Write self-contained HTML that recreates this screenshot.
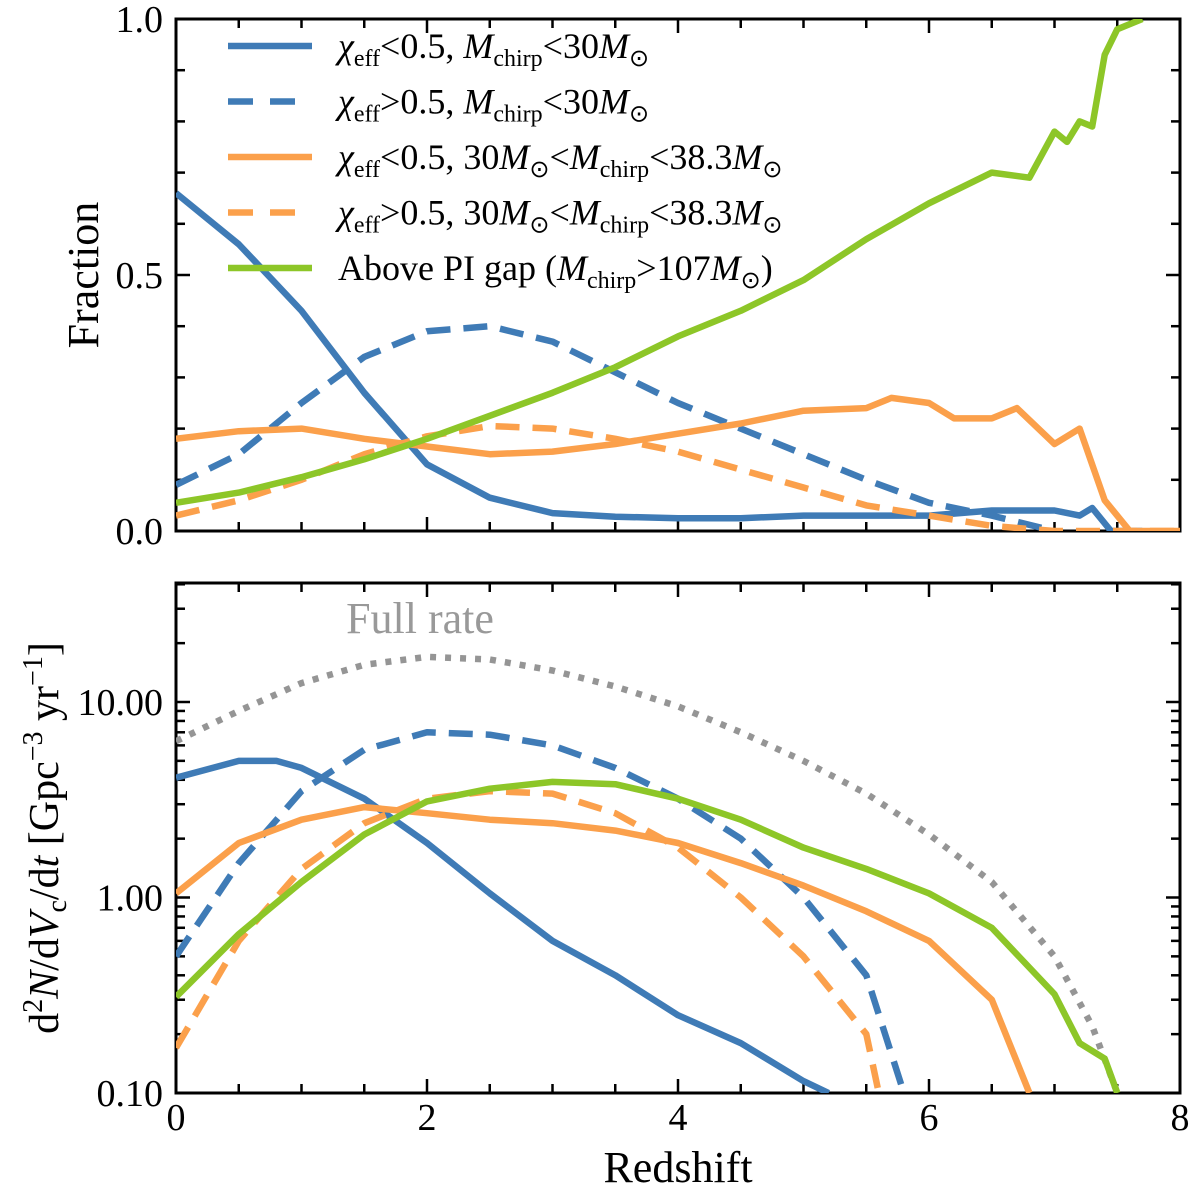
<!DOCTYPE html>
<html><head><meta charset="utf-8"><style>
html,body{margin:0;padding:0;background:#fff;}
svg{display:block;font-family:"Liberation Serif",serif;}
</style></head><body>
<svg id="chart" width="1200" height="1194" viewBox="0 0 1200 1194">
<defs>
<clipPath id="c1"><rect x="176" y="19" width="1004" height="512"/></clipPath>
<clipPath id="c2"><rect x="176" y="583" width="1004" height="510"/></clipPath>
</defs>
<g id="topPanel"></g>
<g id="botPanel"></g>
<text x="98" y="275" font-size="44" text-anchor="middle" transform="rotate(-90 98 275)">Fraction</text>
<text x="58" y="838" font-size="42" text-anchor="middle" transform="rotate(-90 58 838)">d<tspan font-size="28" dy="-16">2</tspan><tspan dy="16" font-style="italic">N</tspan>/d<tspan font-style="italic">V</tspan><tspan font-size="28" dy="8">c</tspan><tspan dy="-8">/d</tspan><tspan font-style="italic">t</tspan>  [Gpc<tspan font-size="28" dy="-16">−3</tspan><tspan dy="16"> yr</tspan><tspan font-size="28" dy="-16">−1</tspan><tspan dy="16">]</tspan></text>
<text x="678" y="1182" font-size="44" text-anchor="middle">Redshift</text>
<text x="420" y="633" font-size="44" text-anchor="middle" fill="#999">Full rate</text>
<g id="legendG"></g>
</svg>
<script>
const zTop=[0,0.5,1,1.5,2,2.5,3,3.5,4,4.5,5,5.5,6,6.5,7,7.2,7.3,7.45,7.7];
const fBlueSolid=[0.66,0.56,0.43,0.27,0.13,0.065,0.035,0.028,0.025,0.025,0.03,0.03,0.03,0.04,0.04,0.03,0.045,0.0,0.0];
const zBD=[0,0.5,1,1.5,2,2.5,3,3.5,4,4.5,5,5.5,6,6.5,7];
const fBlueDash=[0.09,0.15,0.25,0.34,0.39,0.40,0.37,0.31,0.25,0.20,0.15,0.10,0.055,0.03,0.0];
const zOS=[0,0.5,1,1.5,2,2.5,3,3.5,4,4.5,5,5.5,5.7,6,6.2,6.5,6.7,7,7.2,7.4,7.6,8];
const fOrangeSolid=[0.18,0.195,0.2,0.18,0.165,0.15,0.155,0.17,0.19,0.21,0.235,0.24,0.26,0.25,0.22,0.22,0.24,0.17,0.2,0.06,0.0,0.0];
const zOD=[0,0.5,1,1.5,2,2.5,3,3.5,4,4.5,5,5.5,6,6.5,7,7.5,8];
const fOrangeDash=[0.03,0.06,0.1,0.15,0.185,0.205,0.2,0.18,0.155,0.12,0.085,0.05,0.03,0.01,0.0,0.0,0.0];
const zG=[0,0.5,1,1.5,2,2.5,3,3.5,4,4.5,5,5.5,6,6.5,6.8,7,7.1,7.2,7.3,7.4,7.5,7.7];
const fGreen=[0.055,0.075,0.105,0.14,0.18,0.225,0.27,0.32,0.38,0.43,0.49,0.57,0.64,0.7,0.69,0.78,0.76,0.8,0.79,0.93,0.98,1.0];

const zFull=[0,0.5,1,1.5,2,2.5,3,3.5,4,4.5,5,5.5,6,6.5,7,7.3,7.5];
const rFull=[6.3,9,12.5,15.5,17,16.5,14.5,12,9.5,7,5,3.4,2.1,1.2,0.5,0.22,0.1];
const zRBS=[0,0.5,0.8,1,1.5,2,2.5,3,3.5,4,4.5,5,5.2];
const rBlueSolid=[4.1,5,5,4.6,3.2,1.9,1.05,0.6,0.4,0.25,0.18,0.115,0.1];
const zRBD=[0,0.5,1,1.5,2,2.5,3,3.5,4,4.5,5,5.5,5.8];
const rBlueDash=[0.5,1.5,3.5,5.7,7,6.8,6,4.6,3.2,2.0,1.0,0.4,0.1];
const zROS=[0,0.5,1,1.5,2,2.5,3,3.5,4,4.5,5,5.5,6,6.5,6.8];
const rOrangeSolid=[1.05,1.9,2.5,2.9,2.7,2.5,2.4,2.2,1.9,1.5,1.15,0.85,0.6,0.3,0.1];
const zROD=[0,0.5,1,1.5,2,2.5,3,3.5,4,4.5,5,5.5,5.6];
const rOrangeDash=[0.17,0.6,1.4,2.4,3.2,3.5,3.4,2.7,1.8,1.0,0.5,0.2,0.1];
const zRG=[0,0.5,1,1.5,2,2.5,3,3.5,4,4.5,5,5.5,6,6.5,7,7.2,7.4,7.5];
const rGreen=[0.31,0.65,1.2,2.1,3.1,3.6,3.9,3.8,3.2,2.5,1.8,1.4,1.05,0.7,0.32,0.18,0.15,0.1];

const xTicks=["0","2","4","6","8"];
const yTopTicks=["0.0","0.5","1.0"];
const yBotTicks=["0.10","1.00","10.00"];

const NS="http://www.w3.org/2000/svg";
const X0=176,X1=1180;
const xs=z=>X0+(X1-X0)*z/8;
const yT=f=>531-512*f;
const yB=v=>1093-195.5*(Math.log10(v)+1);
const BLUE="#3f7bb6",ORANGE="#fba04b",GREEN="#8dc628",GRAY="#959595";
function mk(tag,attrs,parent){const e=document.createElementNS(NS,tag);for(const k in attrs)e.setAttribute(k,attrs[k]);parent.appendChild(e);return e;}
function drawLine(parent,zs,vs,yf,color,dash,clip,name){
  const d=zs.map((z,i)=>(i?"L":"M")+xs(z).toFixed(1)+","+yf(vs[i]).toFixed(1)).join("");
  const p=mk("path",{d:d,fill:"none",stroke:color,"stroke-width":6.5,"stroke-linejoin":"round","clip-path":"url(#"+clip+")"},parent);
  if(dash)p.setAttribute("stroke-dasharray",dash);
  
  
}
function frame(parent,yTop,yBot,name){
  const r=mk("rect",{x:X0,y:yTop,width:X1-X0,height:yBot-yTop,fill:"none",stroke:"#000","stroke-width":3},parent);
  
  
  for(let k=0;k<=16;k++){const x=xs(k*0.5);const L=(k%4===0)?14:9;
    mk("line",{x1:x,x2:x,y1:yBot,y2:yBot-L,stroke:"#000","stroke-width":2.5},parent);
    mk("line",{x1:x,x2:x,y1:yTop,y2:yTop+L,stroke:"#000","stroke-width":2.5},parent);}
}
const topG=document.getElementById("topPanel"),botG=document.getElementById("botPanel");
frame(topG,19,531,"fraction-frame");
for(let k=0;k<=10;k++){const y=yT(k/10);const L=(k%5===0)?14:9;
  mk("line",{x1:X0,x2:X0+L,y1:y,y2:y,stroke:"#000","stroke-width":2.5},topG);
  mk("line",{x1:X1,x2:X1-L,y1:y,y2:y,stroke:"#000","stroke-width":2.5},topG);}
yTopTicks.forEach((t,i)=>{const e=mk("text",{x:163,y:yT(i*0.5)+13,"font-size":38,"text-anchor":"end"},topG);e.textContent=t;
  
  });
frame(botG,583,1093,"rate-frame");
for(let d=-1;d<=1;d++)for(let m=1;m<=9;m++){const v=m*Math.pow(10,d);const y=yB(v);if(y<583)continue;const L=m===1?14:9;
  mk("line",{x1:X0,x2:X0+L,y1:y,y2:y,stroke:"#000","stroke-width":2.5},botG);
  mk("line",{x1:X1,x2:X1-L,y1:y,y2:y,stroke:"#000","stroke-width":2.5},botG);}
yBotTicks.forEach((t,i)=>{const e=mk("text",{x:163,y:yB(Math.pow(10,i-1))+13,"font-size":38,"text-anchor":"end"},botG);e.textContent=t;
  
  });
xTicks.forEach((t,i)=>{const e=mk("text",{x:xs(i*2),y:1130,"font-size":38,"text-anchor":"middle"},botG);e.textContent=t;
  
  });

drawLine(topG,zTop,fBlueSolid,yT,BLUE,null,"c1","frac-blue-solid");
drawLine(topG,zBD,fBlueDash,yT,BLUE,"24 13","c1","frac-blue-dashed");
drawLine(topG,zOS,fOrangeSolid,yT,ORANGE,null,"c1","frac-orange-solid");
drawLine(topG,zOD,fOrangeDash,yT,ORANGE,"24 13","c1","frac-orange-dashed");
drawLine(topG,zG,fGreen,yT,GREEN,null,"c1","frac-green");

drawLine(botG,zFull,rFull,yB,GRAY,"6 9","c2","rate-full");
drawLine(botG,zRBS,rBlueSolid,yB,BLUE,null,"c2","rate-blue-solid");
drawLine(botG,zRBD,rBlueDash,yB,BLUE,"24 13","c2","rate-blue-dashed");
drawLine(botG,zROS,rOrangeSolid,yB,ORANGE,null,"c2","rate-orange-solid");
drawLine(botG,zROD,rOrangeDash,yB,ORANGE,"24 13","c2","rate-orange-dashed");
drawLine(botG,zRG,rGreen,yB,GREEN,null,"c2","rate-green");

const lg=document.getElementById("legendG");
const sub='<tspan font-size="24" dy="8">';
const back='</tspan><tspan dy="-8">';
const items=[
 [BLUE,null,'<tspan font-style="italic">χ</tspan>'+sub+'eff'+back+'&lt;0.5, </tspan><tspan font-style="italic">M</tspan>'+sub+'chirp'+back+'&lt;30</tspan><tspan font-style="italic">M</tspan>'+sub+'⊙</tspan>'],
 [BLUE,"22 13",'<tspan font-style="italic">χ</tspan>'+sub+'eff'+back+'&gt;0.5, </tspan><tspan font-style="italic">M</tspan>'+sub+'chirp'+back+'&lt;30</tspan><tspan font-style="italic">M</tspan>'+sub+'⊙</tspan>'],
 [ORANGE,null,'<tspan font-style="italic">χ</tspan>'+sub+'eff'+back+'&lt;0.5, 30</tspan><tspan font-style="italic">M</tspan>'+sub+'⊙'+back+'&lt;</tspan><tspan font-style="italic">M</tspan>'+sub+'chirp'+back+'&lt;38.3</tspan><tspan font-style="italic">M</tspan>'+sub+'⊙</tspan>'],
 [ORANGE,"22 13",'<tspan font-style="italic">χ</tspan>'+sub+'eff'+back+'&gt;0.5, 30</tspan><tspan font-style="italic">M</tspan>'+sub+'⊙'+back+'&lt;</tspan><tspan font-style="italic">M</tspan>'+sub+'chirp'+back+'&lt;38.3</tspan><tspan font-style="italic">M</tspan>'+sub+'⊙</tspan>'],
 [GREEN,null,'Above PI gap (<tspan font-style="italic">M</tspan>'+sub+'chirp'+back+'&gt;107</tspan><tspan font-style="italic">M</tspan>'+sub+'⊙'+back+')</tspan>']
];
items.forEach((it,i)=>{const y=46+i*55.5;
  const l=mk("line",{x1:228,x2:312,y1:y,y2:y,stroke:it[0],"stroke-width":6.5},lg);
  if(it[1])l.setAttribute("stroke-dasharray","25 17");
  
  
  const t=mk("text",{x:338,y:y+12,"font-size":36},lg);t.innerHTML=it[2];
  
  
});
</script>
</body></html>
